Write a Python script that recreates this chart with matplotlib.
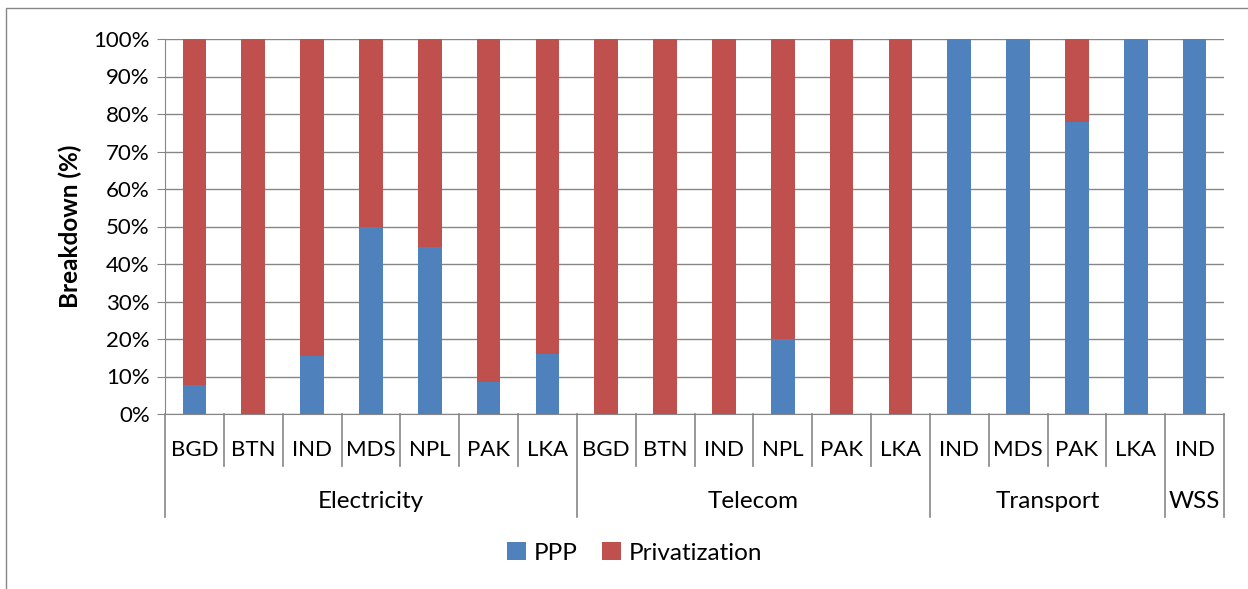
import matplotlib.pyplot as plt
import matplotlib.transforms as mtransforms
from matplotlib.patches import Rectangle
from matplotlib.ticker import PercentFormatter

plt.rcParams['font.family'] = ['Lato', 'DejaVu Sans']

# donnees
groups = ['Electricity', 'Telecom', 'Transport', 'WSS']
countries = [['BGD', 'BTN', 'IND', 'MDS', 'NPL', 'PAK', 'LKA'],
             ['BGD', 'BTN', 'IND', 'NPL', 'PAK', 'LKA'],
             ['IND', 'MDS', 'PAK', 'LKA'],
             ['IND']]
ppp = [7.7, 0, 15.5, 50, 44.5, 8.5, 16,
       0, 0, 0, 20, 0, 0,
       100, 100, 78, 100,
       100]
privatization = [100 - v for v in ppp]

labels = [c for g in countries for c in g]
x = list(range(len(labels)))

W, H = 1248, 589
fig = plt.figure(figsize=(W / 100, H / 100), dpi=100)
ax = fig.add_axes([165 / W, 1 - 414 / H, (1224 - 165) / W, (414 - 39) / H])

blue = '#4F81BD'
red = '#C0504D'
grey = '#868686'

ax.bar(x, ppp, width=0.4, color=blue, label='PPP', zorder=3)
ax.bar(x, privatization, width=0.4, bottom=ppp, color=red, label='Privatization', zorder=3)

ax.set_xlim(-0.5, len(labels) - 0.5)
ax.set_ylim(0, 100)
ax.set_yticks(range(0, 101, 10))
ax.yaxis.set_major_formatter(PercentFormatter(decimals=0))
ax.tick_params(axis='y', labelsize=16, length=6, color=grey, pad=5)
ax.set_xticks([])
ax.grid(axis='y', color=grey, linewidth=1, zorder=0)
for s in ['top', 'right']:
    ax.spines[s].set_visible(False)
ax.spines['left'].set_color(grey)
ax.spines['bottom'].set_color(grey)
ax.set_ylabel('Breakdown (%)', fontsize=17.5, fontweight='bold', labelpad=8)

# axe multi-niveaux
trans = mtransforms.blended_transform_factory(ax.transData, ax.transAxes)
cat_depth = -52 / 375
grp_depth = -103 / 375
for xi, lab in zip(x, labels):
    ax.text(xi, -36 / 375, lab, transform=trans, ha='center', va='center', fontsize=16)

start = 0
bounds = [0]
for g, cs in zip(groups, countries):
    end = start + len(cs)
    ax.text((start + end - 1) / 2, -87 / 375, g, transform=trans,
            ha='center', va='center', fontsize=17.5)
    bounds.append(end)
    start = end

for b in range(len(labels) + 1):
    depth = grp_depth if b in bounds else cat_depth
    ax.plot([b - 0.5, b - 0.5], [0, depth], transform=trans, color=grey,
            linewidth=1.2, clip_on=False)

fig.legend(loc='center', bbox_to_anchor=(635 / W, 1 - 553 / H), ncol=2,
           frameon=False, fontsize=17.5, handlelength=0.75, handleheight=0.75,
           columnspacing=1.0, handletextpad=0.35)

# cadre
fig.patches.append(Rectangle((6 / W, -0.1), 1.2, 1.1 - 8 / H, transform=fig.transFigure,
                             fill=False, edgecolor=grey, linewidth=1))

fig.savefig('out.png', dpi=100)
